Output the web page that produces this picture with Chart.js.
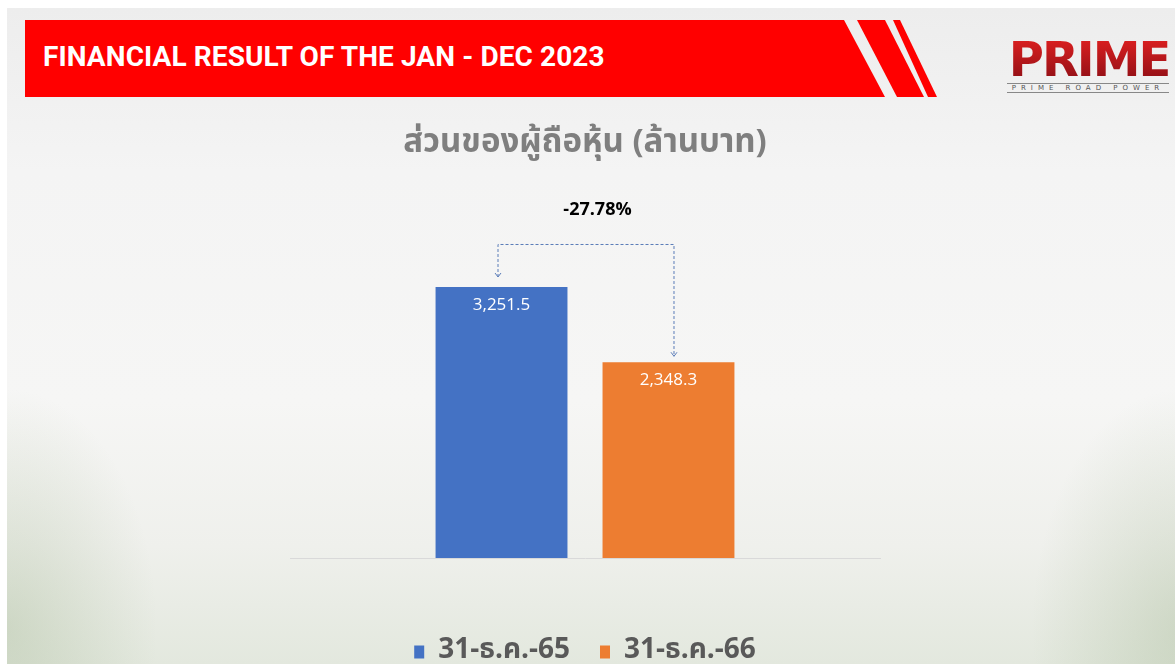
<!DOCTYPE html>
<html>
<head>
<meta charset="utf-8">
<script src="https://cdn.jsdelivr.net/npm/chart.js@4"></script>
<style>
  html, body { margin: 0; padding: 0; }
  body {
    width: 1175px; height: 664px; overflow: hidden; position: relative;
    background: #ffffff;
  }
  #bg {
    position: absolute; left: 7px; top: 8px; right: 0; bottom: 0;
    background:
      radial-gradient(ellipse 150px 240px at 0px 620px, rgba(140,165,120,0.28), rgba(140,165,120,0) 100%),
      radial-gradient(ellipse 150px 240px at 1175px 620px, rgba(140,165,120,0.28), rgba(140,165,120,0) 100%),
      linear-gradient(to bottom, #ededed 0%, #f4f4f4 25%, #f6f6f5 60%, #eff0ec 82%, #e3e8de 100%);
  }
  #banner {
    position: absolute; left: 25px; top: 20px; width: 915px; height: 77px;
  }
  #banner-text {
    position: absolute; left: 43px; top: 40px;
    font-family: Roboto, "Noto Sans", sans-serif; font-weight: 700; font-size: 28px;
    color: #ffffff; letter-spacing: 0.1px; white-space: nowrap;
  }
  #logo {
    position: absolute; left: 1003px; top: 36px; width: 172px;
    font-family: "DejaVu Sans", sans-serif; text-align: center;
  }
  #logo .big {
    font-size: 48px; font-weight: 700; letter-spacing: -2px; line-height: 46px;
    color: #b3121c;
    background: linear-gradient(to bottom, #e02020, #8e0f16);
    -webkit-background-clip: text; background-clip: text; -webkit-text-fill-color: transparent;
  }
  #logo .small {
    font-size: 7px; letter-spacing: 5px; color: #555; margin-top: 1px;
    border-top: 1px solid #888; border-bottom: 1px solid #888; width: 162px; margin-left: 4px;
  }
  #chart { position: absolute; left: 0; top: 0; }
</style>
</head>
<body>
<div id="bg"></div>
<svg id="banner" viewBox="0 0 915 77" width="915" height="77">
  <polygon points="0,0 819,0 860,77 0,77" fill="#ff0000"/>
  <polygon points="832,0 860,0 899,77 872,77" fill="#ff0000"/>
  <polygon points="868,0 875,0 912,77 903,77" fill="#ff0000"/>
</svg>
<div id="banner-text">FINANCIAL RESULT OF THE JAN - DEC 2023</div>
<div id="logo">
  <div class="big">PRIME</div>
  <div class="small">PRIME ROAD POWER</div>
</div>
<canvas id="chart" width="1175" height="676"></canvas>
<script>
const chartTitle = 'ส่วนของผู้ถือหุ้น (ล้านบาท)';
const groupLabels = [''];
const seriesNames = ['31-ธ.ค.-65', '31-ธ.ค.-66'];
const seriesValues = [3251.5, 2348.3];
const seriesColors = ['#4472C4', '#ED7D31'];

const thaiFont = 'Tahoma, "Noto Sans Thai", "Noto Sans", sans-serif';

const barLabels = {
  id: 'barLabels',
  afterDatasetsDraw(chart) {
    const ctx = chart.ctx;
    ctx.save();
    ctx.fillStyle = '#ffffff';
    ctx.font = '17px "Open Sans", "Noto Sans", sans-serif';
    ctx.textAlign = 'center';
    ctx.textBaseline = 'middle';
    chart.data.datasets.forEach((ds, i) => {
      const bar = chart.getDatasetMeta(i).data[0];
      const txt = ds.data[0].toLocaleString('en-US', { minimumFractionDigits: 1, maximumFractionDigits: 1 });
      ctx.fillText(txt, bar.x, bar.y + 18);
    });
    ctx.restore();
  }
};

const changeArrow = {
  id: 'changeArrow',
  afterDatasetsDraw(chart) {
    const ctx = chart.ctx;
    const a = chart.getDatasetMeta(0).data[0];
    const b = chart.getDatasetMeta(1).data[0];
    const xL = a.x - 4;
    const xR = b.x + 5;
    const yTop = a.y - 43;
    const tipL = a.y - 10;
    const tipR = b.y - 6;

    ctx.save();
    ctx.strokeStyle = '#5a7cb8';
    ctx.lineWidth = 1;
    ctx.setLineDash([3, 2]);
    ctx.beginPath();
    ctx.moveTo(xL + 0.5, tipL);
    ctx.lineTo(xL + 0.5, yTop + 0.5);
    ctx.lineTo(xR + 0.5, yTop + 0.5);
    ctx.lineTo(xR + 0.5, tipR);
    ctx.stroke();
    ctx.setLineDash([]);
    [[xL, tipL], [xR, tipR]].forEach(([x, y]) => {
      ctx.beginPath();
      ctx.moveTo(x + 0.5 - 3, y - 4);
      ctx.lineTo(x + 0.5, y);
      ctx.lineTo(x + 0.5 + 3, y - 4);
      ctx.stroke();
    });

    const pct = (seriesValues[1] - seriesValues[0]) / seriesValues[0] * 100;
    ctx.fillStyle = '#000000';
    ctx.font = 'bold 18px "Open Sans", "Noto Sans", sans-serif';
    ctx.textAlign = 'center';
    ctx.textBaseline = 'middle';
    ctx.fillText(pct.toFixed(2) + '%', (xL + xR) / 2 + 12, yTop - 34);
    ctx.restore();
  }
};

new Chart(document.getElementById('chart').getContext('2d'), {
  type: 'bar',
  data: {
    labels: groupLabels,
    datasets: seriesNames.map((name, i) => ({
      label: name,
      data: [seriesValues[i]],
      backgroundColor: seriesColors[i],
      categoryPercentage: 0.566,
      barPercentage: 0.79
    }))
  },
  options: {
    responsive: false,
    animation: false,
    layout: { padding: { left: 290, right: 295, top: 0, bottom: 0 } },
    scales: {
      x: {
        grid: { display: false },
        border: { color: '#d9d9d9', width: 1 },
        ticks: { display: false },
        afterFit(scale) { scale.height = 50; }
      },
      y: {
        display: false,
        min: 0,
        max: 4000
      }
    },
    plugins: {
      title: {
        display: true,
        text: chartTitle,
        color: '#7f7f7f',
        font: { family: thaiFont, size: 33, weight: 'bold' },
        padding: { top: 126, bottom: 59 }
      },
      legend: {
        position: 'bottom',
        labels: {
          color: '#595959',
          font: { family: thaiFont, size: 28, weight: 'bold' },
          boxWidth: 10,
          boxHeight: 13,
          padding: 30
        }
      },
      tooltip: { enabled: false }
    }
  },
  plugins: [barLabels, changeArrow]
});
</script>
</body>
</html>
